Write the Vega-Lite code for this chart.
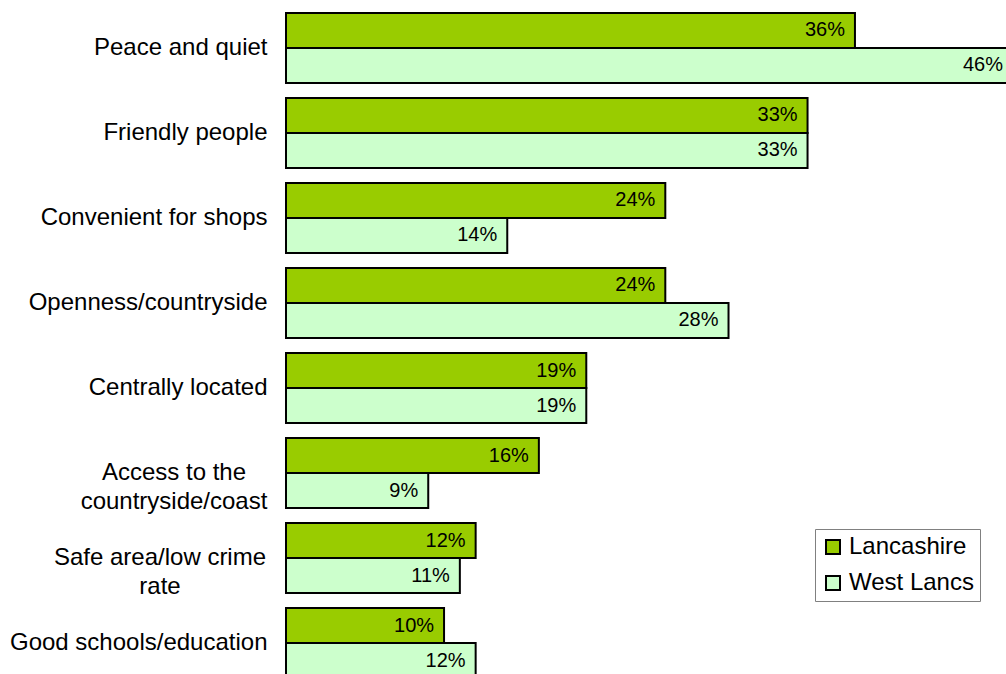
{
  "$schema": "https://vega.github.io/schema/vega-lite/v6.json",
  "width": 720,
  "height": 674,
  "autosize": "none",
  "padding": {"left": 286, "top": 0, "right": 0, "bottom": 0},
  "background": "white",
  "config": {"view": {"stroke": null}, "font": "Liberation Sans"},
  "data": {
    "values": [
      {"category": "Peace and quiet", "series": "Lancashire", "value": 36},
      {"category": "Peace and quiet", "series": "West Lancs", "value": 46},
      {"category": "Friendly people", "series": "Lancashire", "value": 33},
      {"category": "Friendly people", "series": "West Lancs", "value": 33},
      {"category": "Convenient for shops", "series": "Lancashire", "value": 24},
      {"category": "Convenient for shops", "series": "West Lancs", "value": 14},
      {"category": "Openness/countryside", "series": "Lancashire", "value": 24},
      {"category": "Openness/countryside", "series": "West Lancs", "value": 28},
      {"category": "Centrally located", "series": "Lancashire", "value": 19},
      {"category": "Centrally located", "series": "West Lancs", "value": 19},
      {"category": "Access to the countryside/coast", "series": "Lancashire", "value": 16},
      {"category": "Access to the countryside/coast", "series": "West Lancs", "value": 9},
      {"category": "Safe area/low crime rate", "series": "Lancashire", "value": 12},
      {"category": "Safe area/low crime rate", "series": "West Lancs", "value": 11},
      {"category": "Good schools/education", "series": "Lancashire", "value": 10},
      {"category": "Good schools/education", "series": "West Lancs", "value": 12}
    ]
  },
  "transform": [{"calculate": "datum.value + '%'", "as": "label"}],
  "encoding": {
    "y": {
      "field": "category",
      "type": "nominal",
      "sort": null,
      "scale": {"range": [5.5, 685.5], "paddingInner": 0.1765, "paddingOuter": 0.0882},
      "axis": {
        "title": null,
        "domain": false,
        "ticks": false,
        "labelFontSize": 24,
        "labelColor": "black",
        "labelPadding": {
          "condition": [
            {"test": "datum.value == 'Access to the countryside/coast'", "value": 112.5},
            {"test": "datum.value == 'Safe area/low crime rate'", "value": 126.5}
          ],
          "value": 19
        },
        "labelAlign": {
          "condition": {"test": "datum.value == 'Access to the countryside/coast' || datum.value == 'Safe area/low crime rate'", "value": "center"},
          "value": "right"
        },
        "labelLimit": 300,
        "labelLineHeight": 29,
        "labelExpr": "datum.value == 'Access to the countryside/coast' ? ['Access to the', 'countryside/coast'] : datum.value == 'Safe area/low crime rate' ? ['Safe area/low crime', 'rate'] : datum.value"
      }
    },
    "yOffset": {"field": "series", "type": "nominal", "scale": {"paddingInner": 0, "paddingOuter": 0}},
    "x": {
      "field": "value",
      "type": "quantitative",
      "scale": {"domain": [0, 46], "nice": false, "range": [0, 727]},
      "axis": null
    }
  },
  "layer": [
    {
      "mark": {"type": "bar", "stroke": "black", "strokeWidth": 2},
      "encoding": {
        "color": {
          "field": "series",
          "type": "nominal",
          "scale": {"domain": ["Lancashire", "West Lancs"], "range": ["#99CC00", "#CCFFCC"]},
          "legend": {
            "title": null,
            "orient": "none",
            "legendX": 529,
            "legendY": 529,
            "direction": "vertical",
            "symbolType": "square",
            "symbolSize": 196,
            "symbolStrokeColor": "black",
            "symbolStrokeWidth": 2,
            "labelFontSize": 24,
            "labelColor": "black",
            "labelOffset": 4,
            "rowPadding": 12,
            "padding": 6,
            "strokeColor": "#808080",
            "fillColor": "white"
          }
        }
      }
    },
    {
      "mark": {"type": "text", "align": "right", "dx": -10, "fontSize": 20, "color": "black", "baseline": "middle"},
      "encoding": {
        "text": {"field": "label", "type": "nominal"},
        "detail": {"field": "series"}
      }
    }
  ]
}
